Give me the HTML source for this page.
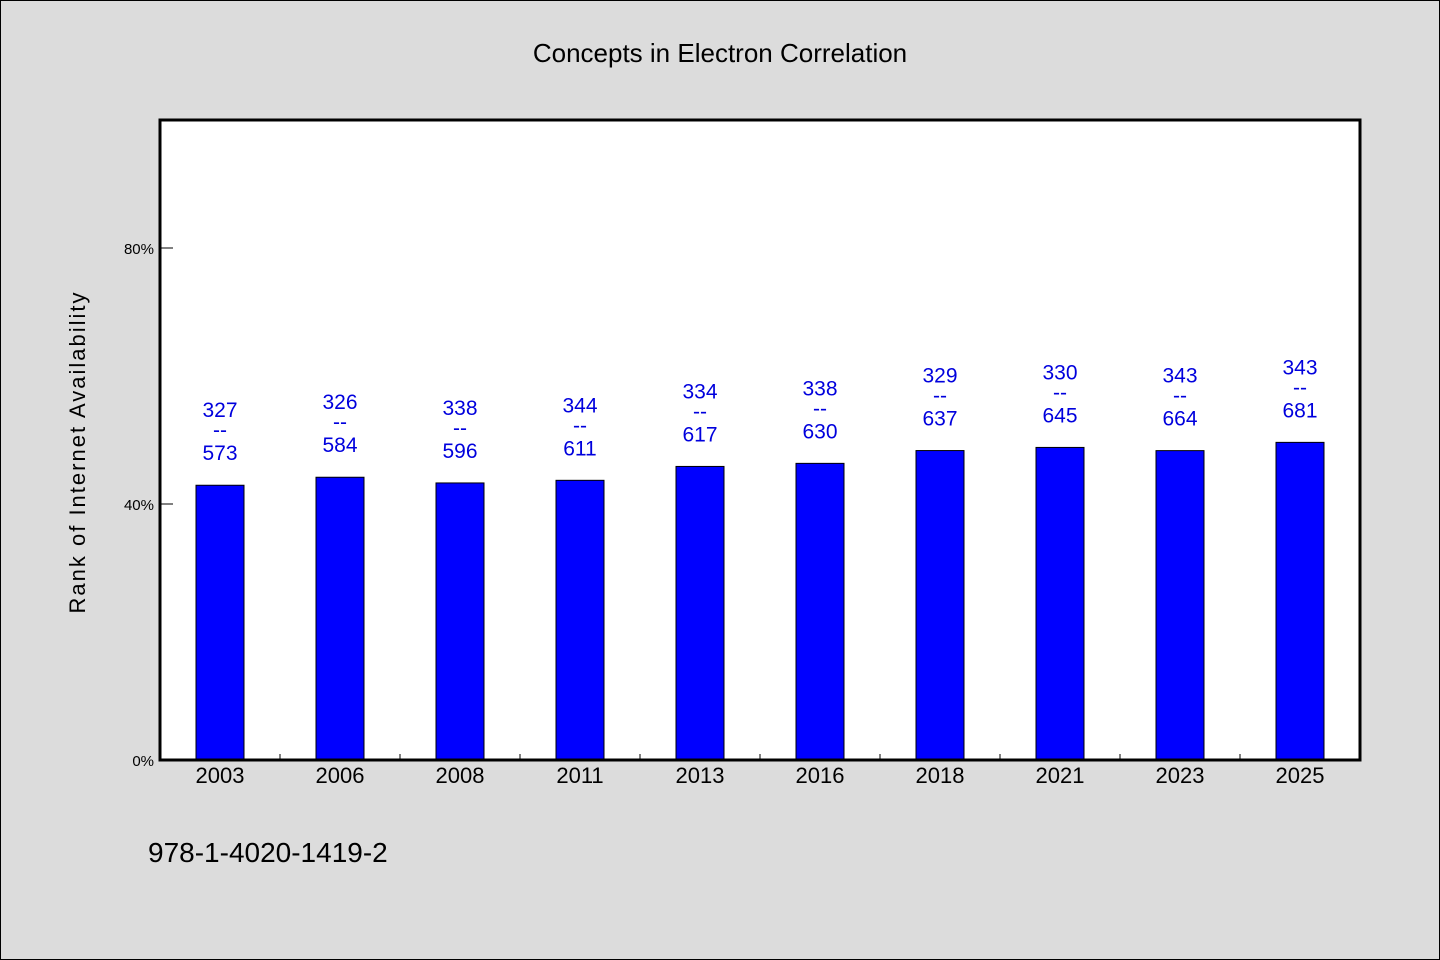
<!DOCTYPE html>
<html><head><meta charset="utf-8"><style>
html,body{margin:0;padding:0;background:#dcdcdc;}
svg{display:block;font-family:"WenQuanYi Zen Hei","Liberation Sans",sans-serif;}
</style></head><body>
<svg id="chart" width="1440" height="960" xmlns="http://www.w3.org/2000/svg">
<rect x="0.5" y="0.5" width="1439" height="959" fill="#dcdcdc" stroke="#000" stroke-width="1"/>
<text x="720" y="62" text-anchor="middle" font-size="26" fill="#000">Concepts in Electron Correlation</text>
<rect x="160" y="120" width="1200" height="640" fill="#fff"/>
<g id="bars"></g>
<g id="axes"></g>
<rect x="160" y="120" width="1200" height="640" fill="none" stroke="#000" stroke-width="3"/>
<text transform="translate(85,452) rotate(-90)" text-anchor="middle" font-size="22" letter-spacing="2" fill="#000">Rank of Internet Availability</text>
<text x="148" y="862" font-size="28" fill="#000">978-1-4020-1419-2</text>
</svg>
<script>
const categories=["2003","2006","2008","2011","2013","2016","2018","2021","2023","2025"];
const values=[42.93,44.18,43.29,43.70,45.87,46.35,48.35,48.84,48.34,49.63];
const numerators=["327","326","338","344","334","338","329","330","343","343"];
const denominators=["573","584","596","611","617","630","637","645","664","681"];
const yTicks=[0,40,80];
const yTickLabels=["0%","40%","80%"];
const NS="http://www.w3.org/2000/svg";
const L=160,R=1360,T=120,B=760,YMAX=100;
const bw=(R-L)/categories.length;
const x=i=>L+bw*(i+0.5);
const y=v=>B-(v/YMAX)*(B-T);
function mk(tag,attrs,parent,txt){const e=document.createElementNS(NS,tag);for(const k in attrs)e.setAttribute(k,attrs[k]);if(txt!==undefined)e.textContent=txt;parent.appendChild(e);return e;}
const gb=document.getElementById('bars'),ga=document.getElementById('axes');
values.forEach((v,i)=>{
 const r=mk('rect',{x:x(i)-24,y:y(v),width:48,height:B-y(v),fill:'#0000ff',stroke:'#000','stroke-width':1},gb);
 
 
 const g=mk('g',{fill:'#0000dd','font-size':21,'text-anchor':'middle'},gb);
 
 
 mk('text',{x:x(i),y:y(v)-68},g,numerators[i]);
 mk('text',{x:x(i),y:y(v)-48},g,'--');
 mk('text',{x:x(i),y:y(v)-25},g,denominators[i]);
 const t=mk('text',{x:x(i),y:B+23,'text-anchor':'middle','font-size':22,fill:'#000'},ga,categories[i]);
 
 
 if(i>0){const tk=mk('line',{x1:L+bw*i,x2:L+bw*i,y1:B,y2:B-6,stroke:'#000','stroke-width':1},ga);
 
 }
});
yTicks.forEach((v,i)=>{
 const tk=mk('line',{x1:L,x2:L+13,y1:y(v),y2:y(v),stroke:'#000','stroke-width':1},ga);
 
 
 const t=mk('text',{x:L-6,y:y(v)+6,'text-anchor':'end','font-size':15,fill:'#000'},ga,yTickLabels[i]);
 
 
});
</script>
</body></html>
